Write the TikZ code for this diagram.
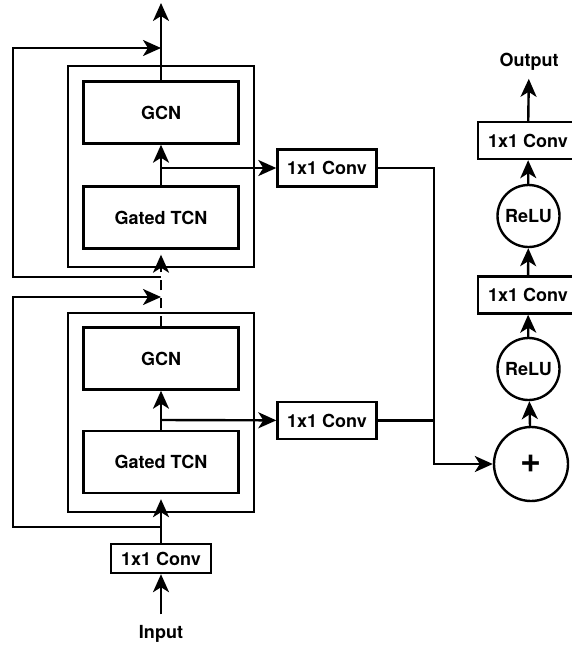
\documentclass[tikz,border=0pt]{standalone}
\usepackage{fontspec}
\setmainfont{TeX Gyre Heros}
\usetikzlibrary{arrows.meta}

\begin{document}
\begin{tikzpicture}[x=1pt,y=-1pt,line width=2.4pt,
    font=\bfseries\fontsize{18}{22}\selectfont,
    >={Stealth[length=18pt,width=16pt,inset=5pt]},
    block/.style={draw,minimum width=186pt},
    layer/.style={draw,minimum width=155pt,minimum height=62pt},
    conv/.style={draw,minimum width=99pt,minimum height=37pt,inner sep=0pt},
    op/.style={draw,circle,inner sep=0pt},
    lbl/.style={inner sep=0pt}]
      \useasboundingbox (0,0) rectangle (571,648);
      % stacked blocks
      \node[block,minimum height=201pt] (blk1) at (161,166.5) {};
      \node[block,minimum height=199pt] (blk2) at (161,412.5) {};
      \node[layer] (gcn1) at (161,112.5) {GCN};
      \node[layer] (gtcn1) at (161,217.5) {Gated TCN};
      \node[layer] (gcn2) at (161,358.5) {GCN};
      \node[layer] (gtcn2) at (161,462) {Gated TCN};
      \node[conv,minimum width=100pt,minimum height=29pt] (conv0) at (161,558.5) {1x1 Conv};
      \node[lbl] (input) at (161,634) {Input};
      \node[conv] (conv1) at (327,168) {1x1 Conv};
      \node[conv] (conv2) at (327,420.5) {1x1 Conv};
      % output head
      \node[op,minimum size=74pt,font=\bfseries\fontsize{36}{36}\selectfont] (plus) at (531,464) {+};
      \node[op,minimum size=62pt] (relu1) at (528.5,369) {ReLU};
      \node[conv,minimum width=100pt] (conv3) at (528,295) {1x1 Conv};
      \node[op,minimum size=62pt] (relu2) at (528.5,216) {ReLU};
      \node[conv,minimum width=100pt] (conv4) at (528,140.5) {1x1 Conv};
      \node[lbl] (output) at (529,62) {Output};
      \coordinate (top) at (161,3);
      \coordinate (b1) at (161,168);
      \coordinate (b2) at (161,420);
      \coordinate (j1) at (161,527);
      \coordinate (j2) at (161,277);
      \coordinate (s1) at (161,48);
      \coordinate (s2) at (161,297);
      \coordinate (m) at (434,464);
      \begin{scope}[->]
        \draw[shorten <=10pt] (input) to (conv0);
        \draw[shorten >=5pt] (conv0) to (gtcn2);
        \draw (gtcn2) to (gcn2);
        \draw (b2) to (conv2);
        \draw[dash pattern=on 10pt off 8pt,shorten >=5pt] (gcn2) to (gtcn1);
        \draw (j1) -- (13,527) -- (13,297) -- (s2);
        \draw (j2) -- (13,277) -- (13,48) -- (s1);
        \draw (gtcn1) to (gcn1);
        \draw (b1) to (conv1);
        \draw (gcn1) to (top);
        \draw (conv1) -| (m) -- (plus);
        \draw (plus) to (relu1);
        \draw (relu1) to (conv3);
        \draw (conv3) to (relu2);
        \draw (relu2) to (conv4);
        \draw[shorten >=7pt] (conv4) to (output);
      \end{scope}
      \draw (conv2) -- (conv2 -| m);
    \end{tikzpicture}
\end{document}
